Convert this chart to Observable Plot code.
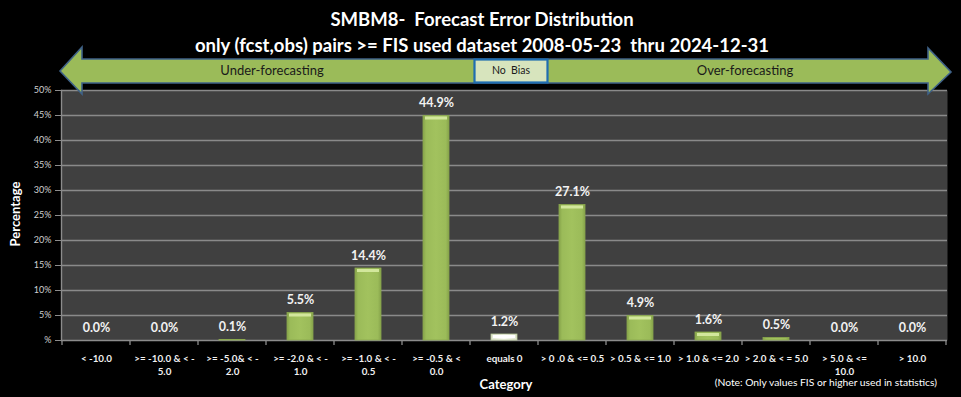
<!DOCTYPE html>
<html>
<head>
<meta charset="utf-8">
<script src="https://cdn.jsdelivr.net/npm/d3@7"></script>
<script src="https://cdn.jsdelivr.net/npm/@observablehq/plot@0.6"></script>
<style>
  html, body { margin: 0; padding: 0; background: #000; }
  #wrap { position: relative; width: 961px; height: 397px; overflow: hidden; font-family: Lato, "Open Sans", sans-serif; }
  #wrap > svg.overlay { position: absolute; left: 0; top: 0; pointer-events: none; }
</style>
</head>
<body>
<div id="wrap"></div>
<script>
// ---------- data ----------
const categories = ["< -10.0", ">= -10.0 & < -5.0", ">= -5.0& < -2.0", ">= -2.0 & < -1.0", ">= -1.0 & < -0.5",
  ">= -0.5 & < 0.0", "equals 0", "> 0 .0 & <= 0.5", "> 0.5 & <= 1.0", "> 1.0 & <= 2.0", "> 2.0 & < = 5.0",
  "> 5.0 & <= 10.0", "> 10.0"];
const tickLabels = ["< -10.0", ">= -10.0 & < -\n5.0", ">= -5.0& < -\n2.0", ">= -2.0 & < -\n1.0", ">= -1.0 & < -\n0.5",
  ">= -0.5 & <\n0.0", "equals 0", "> 0 .0 & <= 0.5", "> 0.5 & <= 1.0", "> 1.0 & <= 2.0", "> 2.0 & < = 5.0",
  "> 5.0 & <=\n10.0", "> 10.0"];
const percentages = [0.0, 0.0, 0.1, 5.5, 14.4, 44.9, 1.2, 27.1, 4.9, 1.6, 0.5, 0.0, 0.0];
const yTicks = [0, 5, 10, 15, 20, 25, 30, 35, 40, 45, 50];
const titleLines = ["SMBM8-  Forecast Error Distribution", "only (fcst,obs) pairs >= FIS used dataset 2008-05-23  thru 2024-12-31"];
const arrowLabels = ["Under-forecasting", "No  Bias", "Over-forecasting"];
const yLabel = "Percentage";
const xLabel = "Category";
const note = "(Note: Only values FIS or higher used in statistics)";

const data = categories.map((c, i) => ({category: c, value: percentages[i], label: tickLabels[i], zero: c === "equals 0"}));

// ---------- chart ----------
const W = 961, H = 397;
const mL = 61, mR = 14, mT = 90, mB = 57;

function defs() {
  const svg = d3.create("svg:defs");
  const g1 = svg.append("linearGradient").attr("id", "barGreen").attr("x1", 0).attr("x2", 1).attr("y1", 0).attr("y2", 0);
  g1.append("stop").attr("offset", "0%").attr("stop-color", "#86a34a");
  g1.append("stop").attr("offset", "12%").attr("stop-color", "#9bbb59");
  g1.append("stop").attr("offset", "50%").attr("stop-color", "#a2c25e");
  g1.append("stop").attr("offset", "88%").attr("stop-color", "#9bbb59");
  g1.append("stop").attr("offset", "100%").attr("stop-color", "#86a34a");
  const g2 = svg.append("linearGradient").attr("id", "barWhite").attr("x1", 0).attr("x2", 1).attr("y1", 0).attr("y2", 0);
  g2.append("stop").attr("offset", "0%").attr("stop-color", "#dfe6cf");
  g2.append("stop").attr("offset", "50%").attr("stop-color", "#fbfcf6");
  g2.append("stop").attr("offset", "100%").attr("stop-color", "#dfe6cf");
  return svg.node();
}

function boundaryTicks(index, scales, values, dims) {
  const x = scales.x;
  const step = x.step(), bw = x.bandwidth();
  const y0 = dims.height - dims.marginBottom;
  const edges = categories.map(c => x(c) - (step - bw) / 2);
  edges.push(edges[edges.length - 1] + step);
  const g = d3.create("svg:g").attr("stroke", "#8c8c8c").attr("stroke-width", 1.3);
  for (const e of edges) g.append("line").attr("x1", e).attr("x2", e).attr("y1", y0).attr("y2", y0 + 5);
  return g.node();
}

const chart = Plot.plot({
  width: W, height: H,
  marginLeft: mL, marginRight: mR, marginTop: mT, marginBottom: mB,
  style: {background: "#000", color: "#fff", fontFamily: "Lato, 'Open Sans', sans-serif", overflow: "visible"},
  x: {domain: categories, paddingInner: 0.62, paddingOuter: 0.31, axis: null},
  y: {domain: [0, 50], axis: null},
  marks: [
    defs,
    Plot.frame({fill: "#404040", stroke: null}),
    Plot.ruleY(yTicks.filter(d => d > 0), {stroke: "#8a8a8a", strokeWidth: 1.4}),
    Plot.ruleY([0], {stroke: "#8c8c8c", strokeWidth: 1.4}),
    Plot.frame({anchor: "left", stroke: "#8c8c8c", strokeWidth: 1.4}),
    Plot.barY(data, {x: "category", y: "value", fill: d => d.zero ? "url(#barWhite)" : "url(#barGreen)",
      stroke: d => d.zero ? "#b8c99a" : "#8aa84e", strokeWidth: 0.8}),
    Plot.tickY(data.filter(d => d.value >= 0.8), {x: "category", y: "value", stroke: d => d.zero ? "#ffffff" : "#d2e79c",
      strokeWidth: 3, dy: 2, insetLeft: 2, insetRight: 2}),
    Plot.text(data, {x: "category", y: "value", text: d => d.value.toFixed(1) + "%", dy: -13,
      fill: "#f2f2f2", fontWeight: "bold", fontSize: 12.5}),
    Plot.axisY(yTicks, {tickSize: 6, tickFormat: d => d === 0 ? "%" : d + "%", fontSize: 9, color: "#d0d0d0",
      stroke: "#8c8c8c", label: null, tickPadding: 4}),
    Plot.axisX(categories, {tickSize: 0, tickPadding: 12, tickFormat: (d, i) => tickLabels[categories.indexOf(d)],
      fontSize: 9.8, fontWeight: "bold", lineHeight: 1.35, fill: "#f2f2f2", label: null, textOverflow: null}),
    boundaryTicks
  ]
});
document.getElementById("wrap").appendChild(chart);

// ---------- overlay: titles, arrow, axis titles ----------
const ov = d3.select("#wrap").append("svg").attr("class", "overlay").attr("width", W).attr("height", H)
  .style("font-family", "Lato, 'Open Sans', sans-serif");

ov.append("text").attr("x", 482).attr("y", 21).attr("text-anchor", "middle").attr("dominant-baseline", "middle")
  .attr("fill", "#fff").attr("font-weight", "bold").attr("font-size", 18.5).style("white-space", "pre").text(titleLines[0]);
ov.append("text").attr("x", 482).attr("y", 47).attr("text-anchor", "middle").attr("dominant-baseline", "middle")
  .attr("fill", "#fff").attr("font-weight", "bold").attr("font-size", 18.5).style("white-space", "pre").text(titleLines[1]);

// double-headed arrow
const arrowPath = "M60,71 L82,47 L82,59 L928,59 L928,48 L951,72 L928,94 L928,83 L82,83 L82,94 Z";
ov.append("path").attr("d", arrowPath).attr("fill", "#9bbb59").attr("stroke", "#3f6288").attr("stroke-width", 1.6)
  .attr("stroke-linejoin", "miter");
ov.append("rect").attr("x", 474.5).attr("y", 59.5).attr("width", 73).attr("height", 23)
  .attr("fill", "#d7e4bd").attr("stroke", "#1f6db0").attr("stroke-width", 2.2);
ov.append("text").attr("x", 272).attr("y", 72).attr("text-anchor", "middle").attr("dominant-baseline", "middle")
  .attr("fill", "#1a1a1a").attr("font-size", 13).text(arrowLabels[0]);
ov.append("text").attr("x", 511).attr("y", 71.5).attr("text-anchor", "middle").attr("dominant-baseline", "middle")
  .attr("fill", "#1a1a1a").attr("font-size", 10.5).style("white-space", "pre").text(arrowLabels[1]);
ov.append("text").attr("x", 745).attr("y", 72).attr("text-anchor", "middle").attr("dominant-baseline", "middle")
  .attr("fill", "#1a1a1a").attr("font-size", 13).text(arrowLabels[2]);

ov.append("text").attr("transform", "translate(17,214) rotate(-90)").attr("text-anchor", "middle")
  .attr("dominant-baseline", "middle").attr("fill", "#fff").attr("font-weight", "bold").attr("font-size", 13).text(yLabel);
ov.append("text").attr("x", 506).attr("y", 386).attr("text-anchor", "middle").attr("dominant-baseline", "middle")
  .attr("fill", "#fff").attr("font-weight", "bold").attr("font-size", 13).text(xLabel);
ov.append("text").attr("x", 937).attr("y", 383).attr("text-anchor", "end").attr("dominant-baseline", "middle")
  .attr("fill", "#fff").attr("font-size", 10.3).text(note);
</script>
</body>
</html>
